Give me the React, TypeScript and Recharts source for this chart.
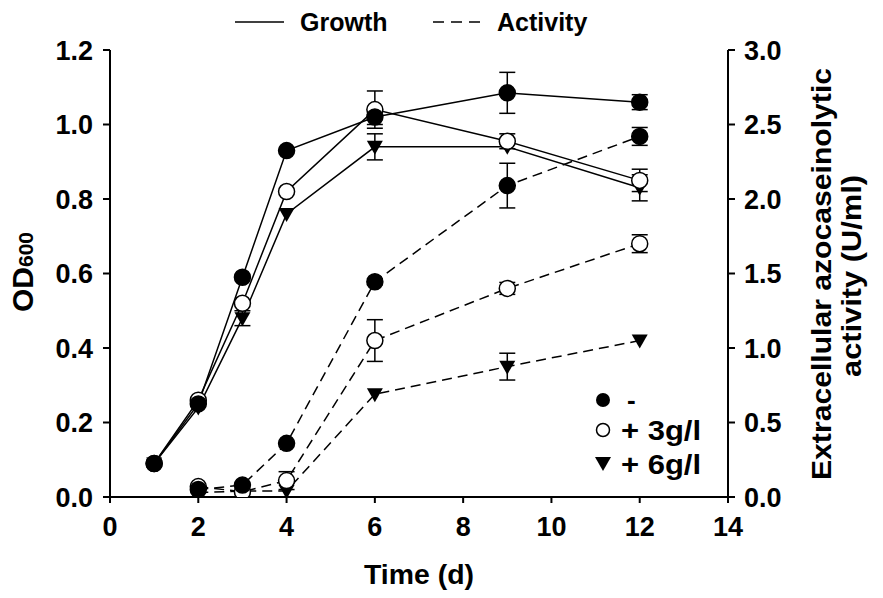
import React from 'react';
import { ComposedChart, Line, XAxis, YAxis, ErrorBar } from 'recharts';

// sampling days
const times = [1, 2, 3, 4, 6, 9, 12];

// growth, OD600 (left axis)
const growthNone = [0.09, 0.25, 0.59, 0.93, 1.02, 1.085, 1.06];
const growth3 = [0.09, 0.26, 0.52, 0.82, 1.04, 0.955, 0.85];
const growth6 = [0.09, 0.24, 0.48, 0.76, 0.94, 0.94, 0.83];
const growthNoneErr = [0, 0, 0, 0, 0.02, 0.055, 0.02];
const growth3Err = [0, 0, 0, 0, 0.05, 0.02, 0.03];
const growth6Err = [0, 0, 0.02, 0, 0.035, 0, 0.035];

// extracellular azocaseinolytic activity, U/ml (right axis)
const actNone = [null, 0.05, 0.08, 0.36, 1.445, 2.09, 2.42];
const act3 = [null, 0.07, 0.035, 0.11, 1.05, 1.4, 1.7];
const act6 = [null, 0.03, 0.04, 0.04, 0.69, 0.875, 1.05];
const actNoneErr = [0, 0, 0, 0, 0.02, 0.15, 0.06];
const act3Err = [0, 0, 0, 0.06, 0.14, 0.04, 0.06];
const act6Err = [0, 0, 0, 0, 0, 0.09, 0];

const xTicks = [0, 2, 4, 6, 8, 10, 12, 14];
const odTicks = [0, 0.2, 0.4, 0.6, 0.8, 1.0, 1.2];
const actTicks = [0, 0.5, 1.0, 1.5, 2.0, 2.5, 3.0];

const data = times.map((t, i) => ({
  t,
  g0: growthNone[i], g3: growth3[i], g6: growth6[i],
  eg0: growthNoneErr[i], eg3: growth3Err[i], eg6: growth6Err[i],
  a0: actNone[i], a3: act3[i], a6: act6[i],
  ea0: actNoneErr[i], ea3: act3Err[i], ea6: act6Err[i],
}));

const FONT = '"Liberation Sans", Arial, Helvetica, sans-serif';
const W = 883;
const H = 598;

type Kind = 'filled' | 'open' | 'tri';

function marker(kind: Kind, r = 8) {
  return (p: any) => {
    const { cx, cy, index } = p;
    if (cx == null || cy == null || p.value == null) return <g key={`m-${index}`} />;
    if (kind === 'tri') {
      const pts = `${cx - r},${cy - r * 0.75} ${cx + r},${cy - r * 0.75} ${cx},${cy + r}`;
      return <polygon key={`m-${index}`} points={pts} fill="#000" />;
    }
    return (
      <circle
        key={`m-${index}`}
        cx={cx}
        cy={cy}
        r={r}
        fill={kind === 'filled' ? '#000' : '#fff'}
        stroke="#000"
        strokeWidth={1.5}
      />
    );
  };
}

const tickStyle = { fill: '#000', fontSize: 27, fontWeight: 700, fontFamily: FONT };

export default function App() {
  const series: { key: string; err: string; kind: Kind; axis: string; dash?: string }[] = [
    { key: 'a6', err: 'ea6', kind: 'tri', axis: 'right', dash: '10 6' },
    { key: 'a3', err: 'ea3', kind: 'open', axis: 'right', dash: '10 6' },
    { key: 'a0', err: 'ea0', kind: 'filled', axis: 'right', dash: '10 6' },
    { key: 'g6', err: 'eg6', kind: 'tri', axis: 'left' },
    { key: 'g3', err: 'eg3', kind: 'open', axis: 'left' },
    { key: 'g0', err: 'eg0', kind: 'filled', axis: 'left' },
  ];

  return (
    <div style={{ position: 'absolute', left: 0, top: 0, width: W, height: H, background: '#fff' }}>
      <ComposedChart
        width={W}
        height={H}
        data={data}
        margin={{ top: 50, right: 55, left: 10, bottom: 41 }}
      >
        <XAxis
          dataKey="t"
          type="number"
          domain={[0, 14]}
          ticks={xTicks}
          tickSize={6}
          tickMargin={14}
          tick={tickStyle}
          stroke="#000"
          strokeWidth={2}
          height={60}
          allowDataOverflow
        />
        <YAxis
          yAxisId="left"
          domain={[0, 1.2]}
          ticks={odTicks}
          tickFormatter={(v: number) => v.toFixed(1)}
          tickSize={7}
          tickMargin={10}
          tick={tickStyle}
          stroke="#000"
          strokeWidth={2}
          width={100}
          allowDataOverflow
        />
        <YAxis
          yAxisId="right"
          orientation="right"
          domain={[0, 3]}
          ticks={actTicks}
          tickFormatter={(v: number) => v.toFixed(1)}
          tickSize={7}
          tickMargin={9}
          tick={tickStyle}
          stroke="#000"
          strokeWidth={2}
          width={100}
          allowDataOverflow
        />
        {series.map((s) => (
          <Line
            key={s.key}
            yAxisId={s.axis}
            dataKey={s.key}
            type="linear"
            stroke="#000"
            strokeWidth={1.5}
            strokeDasharray={s.dash}
            dot={marker(s.kind)}
            activeDot={false}
            isAnimationActive={false}
          >
            <ErrorBar dataKey={s.err} direction="y" width={8} stroke="#000" strokeWidth={1.5} />
          </Line>
        ))}
      </ComposedChart>

      <svg
        width={W}
        height={H}
        style={{ position: 'absolute', left: 0, top: 0, pointerEvents: 'none' }}
        fontFamily={FONT}
        fontWeight={700}
      >
        {/* top legend */}
        <line x1={235} y1={22} x2={284} y2={22} stroke="#000" strokeWidth={1.5} />
        <text x={300} y={31} fontSize={25}>Growth</text>
        <line x1={433} y1={22} x2={484} y2={22} stroke="#000" strokeWidth={1.5} strokeDasharray="11 7" />
        <text x={497} y={31} fontSize={25}>Activity</text>

        {/* inner legend */}
        <circle cx={603} cy={400} r={7} fill="#000" />
        <text x={627} y={409} fontSize={26}>-</text>
        <circle cx={603} cy={430} r={6.5} fill="#fff" stroke="#000" strokeWidth={1.5} />
        <text x={621} y={440} fontSize={27} textLength={80} lengthAdjust="spacingAndGlyphs">+ 3g/l</text>
        <polygon points="595,457 611,457 603,471" fill="#000" />
        <text x={621} y={474} fontSize={27} textLength={80} lengthAdjust="spacingAndGlyphs">+ 6g/l</text>

        {/* axis titles */}
        <text x={419} y={584} fontSize={28} textAnchor="middle" textLength={110} lengthAdjust="spacingAndGlyphs">
          Time (d)
        </text>
        <text transform="translate(33,272) rotate(-90)" textAnchor="middle" fontSize={30}>
          OD<tspan fontSize={21}>600</tspan>
        </text>
        <text
          transform="translate(831,274) rotate(-90)"
          textAnchor="middle"
          fontSize={27}
          textLength={412}
          lengthAdjust="spacingAndGlyphs"
        >
          Extracellular azocaseinolytic
        </text>
        <text
          transform="translate(861,276) rotate(-90)"
          textAnchor="middle"
          fontSize={27}
          textLength={202}
          lengthAdjust="spacingAndGlyphs"
        >
          activity (U/ml)
        </text>
      </svg>
    </div>
  );
}
